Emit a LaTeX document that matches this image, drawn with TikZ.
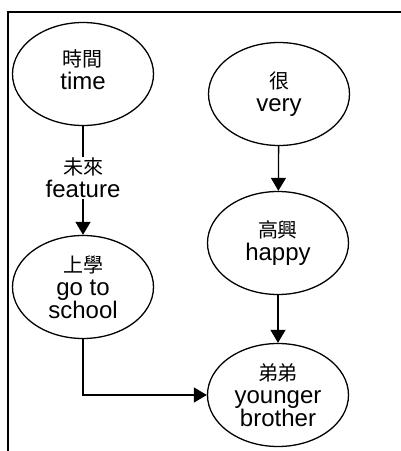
\documentclass[tikz,border=0pt]{standalone}
\usepackage{fontspec}
\setmainfont{Liberation Sans}
\newfontfamily\cjk{Noto Sans CJK TC}
\usetikzlibrary{shapes.geometric,arrows.meta}
\begin{document}
\begin{tikzpicture}[x=1pt,y=-1pt,
  word/.style={ellipse,draw,line width=1.3pt,minimum width=141pt,minimum height=103pt,inner sep=0pt,align=center,font=\fontsize{24}{23}\selectfont},
  lbl/.style={align=center,inner sep=1pt,font=\fontsize{24}{23}\selectfont},
  conn/.style={line width=1.3pt},
  arr/.style={line width=1.3pt,-{Triangle[width=15pt,length=13pt]}}]
\useasboundingbox (0,0) rectangle (401,451);
\coordinate (fbl) at (8,451);
\coordinate (ftl) at (8,12);
\coordinate (ftr) at (401,12);
\draw[line width=1.3pt] (fbl) -- (ftl) -- (ftr);
\node[word] (time) at (83,74) {{\cjk\fontsize{20}{23}\selectfont 時間}\\time\\[-14pt]};
\node[word] (very) at (279,94) {{\cjk\fontsize{20}{23}\selectfont 很}\\very};
\node[lbl] (fut) at (83,178) {{\cjk\fontsize{20}{23}\selectfont 未來}\\feature};
\node[word] (school) at (83,287) {{\cjk\fontsize{20}{23}\selectfont 上學}\\go to\\school};
\node[word] (happy) at (278,243) {{\cjk\fontsize{20}{23}\selectfont 高興}\\happy};
\node[word] (bro) at (278,395) {{\cjk\fontsize{20}{23}\selectfont 弟弟}\\younger\\brother};
\draw[conn] (time) -- (fut);
\draw[arr] (fut) -- (school);
\draw[arr] (very) -- (happy);
\draw[arr] (happy) -- (bro);
\draw[arr] (school.south) |- (bro.west);
\end{tikzpicture}
\end{document}
